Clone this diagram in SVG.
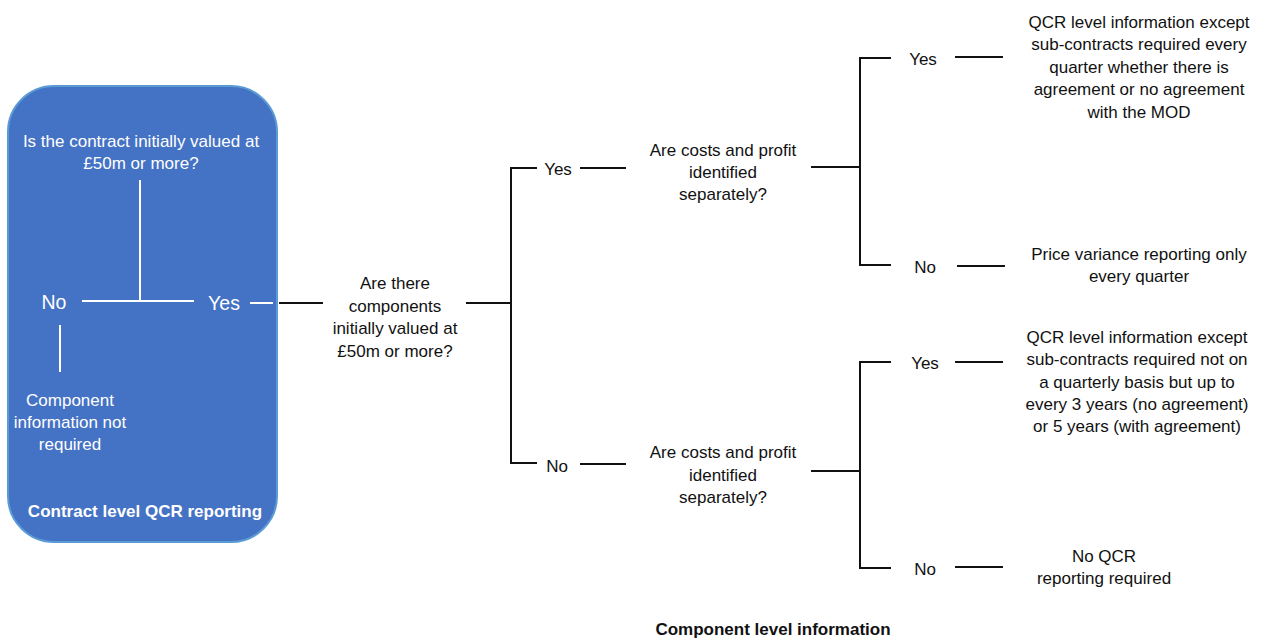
<svg xmlns="http://www.w3.org/2000/svg" width="1262" height="639" viewBox="0 0 1262 639">
<style>
text{font-family:"Liberation Sans",Arial,sans-serif;font-size:17px;text-anchor:middle;fill:#111}
.w{fill:#fff}
.big{font-size:19.5px}
.b{font-weight:bold}
.k{stroke:#111;stroke-width:2;fill:none}
.wl{stroke:#fff;stroke-width:2;fill:none}
</style>
<rect width="1262" height="639" fill="#fff"/>
<g id="contract-box">
<rect x="8" y="86" width="269" height="456" rx="46" ry="46" fill="#4472C4" stroke="#5B9BD5" stroke-width="2"/>
<text class="w" x="141" y="147">Is the contract initially valued at</text>
<text class="w" x="141" y="169">£50m or more?</text>
<text class="w big" x="54" y="309">No</text>
<text class="w big" x="224" y="310">Yes</text>
<text class="w" x="70" y="406">Component</text>
<text class="w" x="70" y="428">information not</text>
<text class="w" x="70" y="450">required</text>
<text class="w b" x="145" y="517">Contract level QCR reporting</text>
</g>
<g id="q-components">
<text x="395" y="289">Are there</text>
<text x="395" y="312">components</text>
<text x="395" y="334">initially valued at</text>
<text x="395" y="357">£50m or more?</text>
</g>
<g id="lbl-yes1"><text x="558" y="175">Yes</text></g>
<g id="lbl-no1"><text x="557" y="472">No</text></g>
<g id="q-costs-upper">
<text x="723" y="156">Are costs and profit</text>
<text x="723" y="178">identified</text>
<text x="723" y="200">separately?</text>
</g>
<g id="q-costs-lower">
<text x="723" y="458">Are costs and profit</text>
<text x="723" y="481">identified</text>
<text x="723" y="503">separately?</text>
</g>
<g id="lbl-yes2"><text x="923" y="65">Yes</text></g>
<g id="lbl-no2"><text x="925" y="273">No</text></g>
<g id="lbl-yes3"><text x="925" y="369">Yes</text></g>
<g id="lbl-no3"><text x="925" y="575">No</text></g>
<g id="out-1">
<text x="1139" y="28">QCR level information except</text>
<text x="1139" y="50">sub-contracts required every</text>
<text x="1139" y="73">quarter whether there is</text>
<text x="1139" y="95">agreement or no agreement</text>
<text x="1139" y="118">with the MOD</text>
</g>
<g id="out-2">
<text x="1139" y="260">Price variance reporting only</text>
<text x="1139" y="282">every quarter</text>
</g>
<g id="out-3">
<text x="1137" y="343">QCR level information except</text>
<text x="1137" y="365">sub-contracts required not on</text>
<text x="1137" y="388">a quarterly basis but up to</text>
<text x="1137" y="410">every 3 years (no agreement)</text>
<text x="1137" y="432">or 5 years (with agreement)</text>
</g>
<g id="out-4">
<text x="1104" y="562">No QCR</text>
<text x="1104" y="584">reporting required</text>
</g>
<g id="caption"><text class="b" x="773" y="635">Component level information</text></g>
<g id="connectors">
<path class="wl" d="M140 180V301M82 301H194M60 325V372M250 303H273"/>
<path class="k" d="M279 303H323M466 303H511M537 168H511V463H537M580 168H626M580 464H626"/>
<path class="k" d="M811 167H860M891 58H860V265H891M955 57H1003M957 266H1005"/>
<path class="k" d="M811 471H860M891 362H860V568H891M955 362H1003M955 567H1003"/>
</g>
</svg>
